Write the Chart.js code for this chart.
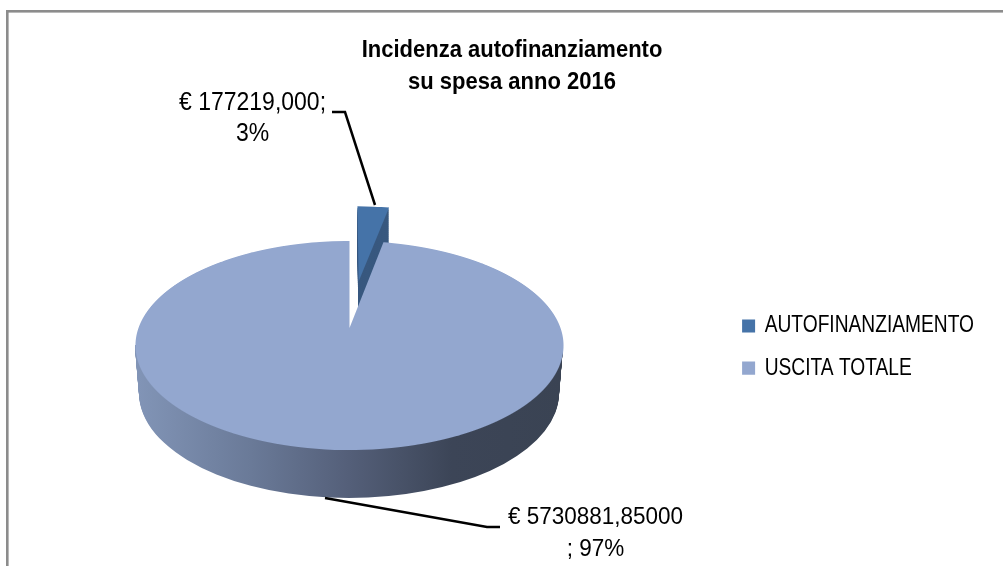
<!DOCTYPE html>
<html><head><meta charset="utf-8">
<style>html,body{margin:0;padding:0;background:#fff}#w{width:1003px;height:566px;position:relative}</style>
<script src="https://cdn.jsdelivr.net/npm/chart.js@4"></script>
</head><body><div id="w"><canvas id="c" width="1003" height="566"></canvas></div>
<script>
const categories = ["AUTOFINANZIAMENTO", "USCITA TOTALE"];
const seriesValues = [177219.000, 5730881.85];
const titleLines = ["Incidenza autofinanziamento", "su spesa anno 2016"];
const valueLabels = [["€ 177219,000;", "3%"], ["€ 5730881,85000", "; 97%"]];
const sliceColors = ["#4573a8", "#93a7cf"];
const explodeFractions = [0.5, 0];

// perspective of the pie's top face
const P = {ax:349.5, ay:328, a:211, b:101.6, p:-0.1675};

function drawPerspective(ctx, arc, ex, ey, dy, y0, y1, color){
  const R = arc.outerRadius, saved = arc.options;
  if(color) arc.options = Object.assign({}, saved, {backgroundColor:color});
  for(let Y=y0; Y<y1; Y++){
    const yy = Y + 0.5 - P.ay - dy;
    const w = P.b/(P.b - P.p*yy);
    const v = yy/(P.b - P.p*yy);
    const k = P.b/(w*w);
    ctx.save();
    ctx.setTransform(1,0,0,1,0,0);
    ctx.beginPath(); ctx.rect(0,Y,1003,1); ctx.clip();
    ctx.setTransform(P.a/(w*R),0,0,k/R,
      P.ax + P.a/w*(ex - arc.x/R),
      Y + 0.5 + k*(ey - arc.y/R - v));
    arc.draw(ctx);
    ctx.restore();
  }
  arc.options = saved;
}

function stretchBox(box, ctx, sy, cy){
  if(box.__wrapped) return;
  box.__wrapped = true;
  const orig = box.draw;
  box.draw = function(){
    ctx.save();
    ctx.translate(0,cy); ctx.scale(1,sy); ctx.translate(0,-cy);
    orig.apply(box,arguments);
    ctx.restore();
  };
}

const pie3d = {
  id:'pie3d',
  beforeDraw(chart){
    const c = chart.ctx;
    c.save();
    c.fillStyle = '#8c8c8c';
    c.fillRect(6,10,997,2.6);
    c.fillRect(6,10,2.6,556);
    c.restore();
    stretchBox(chart.titleBlock, c, 1.12, 66);
    const L = chart.legend;
    stretchBox(L, c, 1.2, (L.top+L.bottom)/2);
  },
  beforeDatasetsDraw(chart){
    const ctx = chart.ctx, arcs = chart.getDatasetMeta(0).data;
    const offs = arcs.map((a,i)=>{
      const mid = (a.startAngle+a.endAngle)/2;
      return [Math.cos(mid)*explodeFractions[i], Math.sin(mid)*explodeFractions[i]];
    });
    const main = arcs[1], R = main.outerRadius, saved = main.options;
    const depth = 48;
    for(let d=depth; d>=0; d--){
      const t = d/depth;
      const rx = 214 - 4*t, ry = 104.5 + 0.5*t, cx = 349, cy = 345.5 + 47.5*t;
      const sx = rx/R, sy = ry/R;
      ctx.save();
      ctx.setTransform(1,0,0,1,0,0);
      ctx.beginPath(); ctx.rect(0,345,1003,221); ctx.clip();
      ctx.setTransform(sx,0,0,sy,cx-main.x*sx,cy-main.y*sy);
      const g = ctx.createLinearGradient(main.x+(135-cx)/sx,0,main.x+(563-cx)/sx,0);
      g.addColorStop(0,'#8295b7');
      g.addColorStop(0.27,'#6a7a98');
      g.addColorStop(0.5,'#545f79');
      g.addColorStop(0.74,'#3c4557');
      g.addColorStop(1,'#3a4353');
      main.options = Object.assign({}, saved, {backgroundColor:g});
      main.draw(ctx);
      ctx.restore();
    }
    main.options = saved;
    const s = arcs[0];
    for(let d=48; d>0; d-=2) drawPerspective(ctx,s,offs[0][0],offs[0][1],d,200,345,'#38587f');
    drawPerspective(ctx,s,offs[0][0],offs[0][1],0,198,300);
    drawPerspective(ctx,main,offs[1][0],offs[1][1],0,238,453);
    return false;
  },
  afterDraw(chart){
    const c = chart.ctx;
    c.save();
    c.setTransform(1,0,0,1,0,0);
    c.strokeStyle='#000'; c.lineWidth=2.5;
    c.beginPath(); c.moveTo(332,112); c.lineTo(345,112); c.lineTo(375,205); c.stroke();
    c.beginPath(); c.moveTo(325,498); c.lineTo(487,527); c.lineTo(500,527); c.stroke();
    c.fillStyle='#000'; c.textAlign='center'; c.textBaseline='middle';
    const put=(t,x,y,size)=>{
      c.save(); c.font=size+'px "Liberation Sans"';
      c.translate(x,y); c.scale(1,1.1); c.fillText(t,0,0); c.restore();
    };
    put(valueLabels[0][0],252.5,103,23);
    put(valueLabels[0][1],252.5,134,23);
    put(valueLabels[1][0],595.5,517,22.5);
    put(valueLabels[1][1],595.5,549,22.5);
    c.restore();
  }
};

new Chart(document.getElementById('c'),{
  type:'pie',
  plugins:[pie3d],
  data:{labels:categories,datasets:[{data:seriesValues,backgroundColor:sliceColors,borderWidth:0}]},
  options:{
    responsive:false,animation:false,
    layout:{padding:{left:40,right:19,top:0,bottom:0}},
    plugins:{
      tooltip:{enabled:false},
      title:{display:true,text:titleLines,color:'#000',
        font:{family:'"Liberation Sans"',size:22,weight:'bold',lineHeight:1.3},
        padding:{top:38,bottom:33}},
      legend:{position:'right',fullSize:false,
        labels:{color:'#000',boxWidth:13,boxHeight:11,padding:16,
          font:{family:'"Liberation Sans"',size:19.2}}}
    }
  }
});
</script></body></html>
